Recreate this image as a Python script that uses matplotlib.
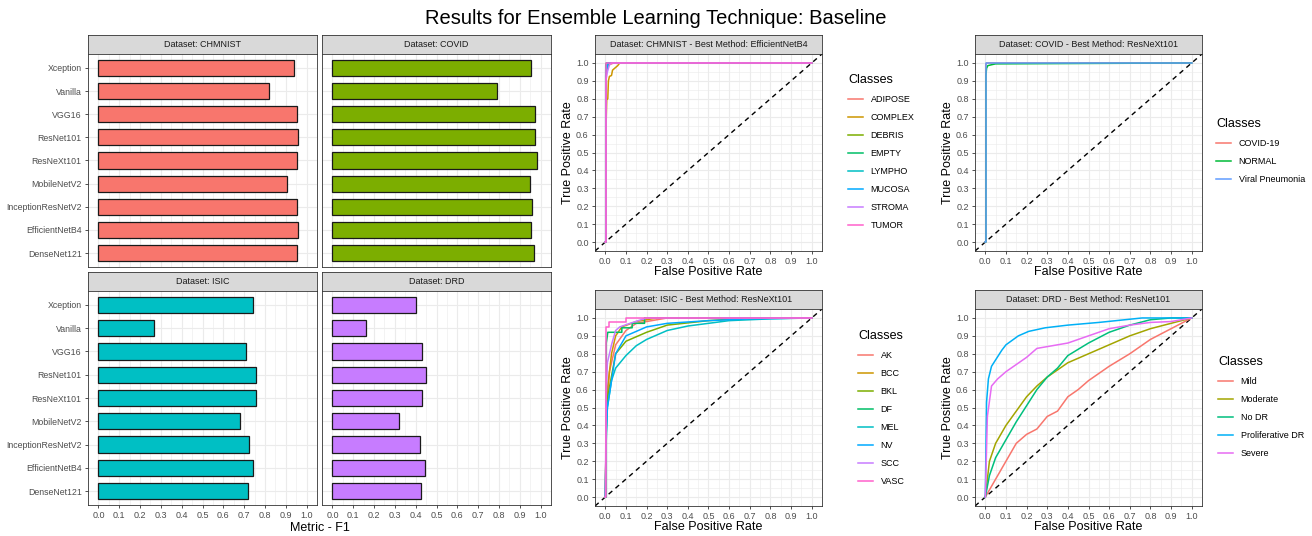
import numpy as np
import matplotlib
matplotlib.use("Agg")
import matplotlib.pyplot as plt
from matplotlib.ticker import MultipleLocator

plt.rcParams['font.family'] = ['Liberation Sans', 'DejaVu Sans']

W, H = 1312, 536

# ---- bar chart data (F1 per model) ----
models = ['DenseNet121', 'EfficientNetB4', 'InceptionResNetV2', 'MobileNetV2',
          'ResNeXt101', 'ResNet101', 'VGG16', 'Vanilla', 'Xception']
f1_chmnist = [0.954, 0.961, 0.952, 0.904, 0.952, 0.959, 0.952, 0.818, 0.938]
f1_covid = [0.969, 0.952, 0.959, 0.947, 0.985, 0.974, 0.974, 0.789, 0.955]
f1_isic = [0.717, 0.741, 0.722, 0.678, 0.756, 0.756, 0.708, 0.268, 0.743]
f1_drd = [0.426, 0.443, 0.423, 0.322, 0.428, 0.449, 0.428, 0.161, 0.401]

# ---- ROC curves (fpr, tpr) ----
chmnist_classes = ['ADIPOSE', 'COMPLEX', 'DEBRIS', 'EMPTY', 'LYMPHO', 'MUCOSA', 'STROMA', 'TUMOR']
chmnist_roc = [
    ([0, 0.002, 0.002, 0.02, 0.04, 1], [0, 0, 0.98, 0.99, 1.0, 1.0]),
    ([0, 0.003, 0.003, 0.007, 0.012, 0.015, 0.02, 0.03, 0.035, 0.05, 0.06, 0.07, 1],
     [0, 0, 0.62, 0.80, 0.80, 0.90, 0.925, 0.93, 0.96, 0.975, 0.985, 1.0, 1.0]),
    ([0, 0.003, 0.003, 0.02, 1], [0, 0, 0.95, 1.0, 1.0]),
    ([0, 0.002, 0.002, 0.005, 1], [0, 0, 0.99, 1.0, 1.0]),
    ([0, 0.002, 0.002, 0.01, 1], [0, 0, 0.96, 1.0, 1.0]),
    ([0, 0.002, 0.002, 0.008, 0.015, 1], [0, 0, 0.93, 0.97, 1.0, 1.0]),
    ([0, 0.003, 0.003, 0.01, 0.02, 0.03, 1], [0, 0, 0.90, 0.95, 0.99, 1.0, 1.0]),
    ([0, 0.003, 0.003, 1], [0, 0, 1.0, 1.0]),
]
chmnist_colors = ['#F8766D', '#CD9600', '#7CAE00', '#00BE67', '#00BFC4', '#00A9FF', '#C77CFF', '#FF61CC']

covid_classes = ['COVID-19', 'NORMAL', 'Viral Pneumonia']
covid_roc = [
    ([0, 0.002, 0.002, 0.006, 1], [0, 0, 0.99, 1.0, 1.0]),
    ([0, 0.003, 0.003, 0.006, 0.012, 0.03, 0.05, 1], [0, 0, 0.93, 0.97, 0.985, 0.99, 0.995, 1.0]),
    ([0, 0.003, 0.003, 1], [0, 0, 1.0, 1.0]),
]
covid_colors = ['#F8766D', '#00BA38', '#619CFF']

isic_classes = ['AK', 'BCC', 'BKL', 'DF', 'MEL', 'NV', 'SCC', 'VASC']
isic_roc = [
    ([0, 0.005, 0.02, 0.05, 0.1, 0.15, 0.25, 0.3, 1],
     [0, 0.45, 0.70, 0.85, 0.93, 0.97, 0.99, 1.0, 1.0]),
    ([0, 0.005, 0.01, 0.03, 0.05, 0.08, 0.15, 0.25, 1],
     [0, 0.45, 0.60, 0.80, 0.90, 0.95, 0.98, 1.0, 1.0]),
    ([0, 0.005, 0.01, 0.05, 0.1, 0.2, 0.3, 0.5, 0.7, 1],
     [0, 0.40, 0.55, 0.80, 0.87, 0.92, 0.96, 0.985, 1.0, 1.0]),
    ([0, 0.005, 0.005, 0.012, 0.08, 0.08, 0.13, 0.13, 0.19, 0.19, 1],
     [0, 0, 0.86, 0.92, 0.92, 0.945, 0.945, 0.97, 0.97, 1.0, 1.0]),
    ([0, 0.004, 0.01, 0.03, 0.05, 0.1, 0.15, 0.2, 0.3, 0.4, 0.5, 0.6, 0.8, 1],
     [0, 0.30, 0.50, 0.65, 0.72, 0.79, 0.845, 0.88, 0.93, 0.955, 0.97, 0.985, 0.995, 1.0]),
    ([0, 0.004, 0.01, 0.05, 0.1, 0.2, 0.3, 0.5, 0.7, 1],
     [0, 0.35, 0.50, 0.80, 0.90, 0.95, 0.97, 0.985, 0.995, 1.0]),
    ([0, 0.004, 0.01, 0.03, 0.05, 0.07, 0.12, 0.2, 1],
     [0, 0.55, 0.75, 0.85, 0.93, 0.95, 0.97, 1.0, 1.0]),
    ([0, 0.005, 0.005, 0.02, 0.02, 0.1, 0.1, 1],
     [0, 0, 0.95, 0.95, 0.975, 0.975, 1.0, 1.0]),
]
isic_colors = ['#F8766D', '#CD9600', '#7CAE00', '#00BE67', '#00BFC4', '#00A9FF', '#C77CFF', '#FF61CC']

drd_classes = ['Mild', 'Moderate', 'No DR', 'Proliferative DR', 'Severe']
drd_roc = [
    ([0, 0.05, 0.1, 0.15, 0.2, 0.25, 0.3, 0.35, 0.4, 0.45, 0.5, 0.6, 0.7, 0.8, 0.9, 1],
     [0, 0.10, 0.20, 0.30, 0.35, 0.38, 0.45, 0.48, 0.56, 0.60, 0.65, 0.73, 0.80, 0.88, 0.94, 1.0]),
    ([0, 0.02, 0.05, 0.1, 0.15, 0.2, 0.25, 0.3, 0.4, 0.5, 0.6, 0.7, 0.8, 0.9, 1],
     [0, 0.20, 0.30, 0.40, 0.48, 0.56, 0.62, 0.67, 0.75, 0.80, 0.85, 0.90, 0.94, 0.97, 1.0]),
    ([0, 0.02, 0.05, 0.1, 0.15, 0.2, 0.25, 0.3, 0.35, 0.4, 0.5, 0.6, 0.7, 0.8, 0.9, 1],
     [0, 0.12, 0.22, 0.32, 0.42, 0.51, 0.60, 0.67, 0.72, 0.79, 0.86, 0.92, 0.96, 0.99, 1.0, 1.0]),
    ([0, 0.006, 0.015, 0.03, 0.055, 0.08, 0.1, 0.16, 0.21, 0.29, 0.4, 0.55, 0.76, 1],
     [0, 0.53, 0.66, 0.73, 0.775, 0.82, 0.85, 0.90, 0.925, 0.945, 0.96, 0.975, 1.0, 1.0]),
    ([0, 0.01, 0.03, 0.06, 0.1, 0.15, 0.2, 0.25, 0.3, 0.4, 0.5, 0.6, 0.7, 0.8, 0.9, 1],
     [0, 0.45, 0.62, 0.66, 0.70, 0.74, 0.78, 0.83, 0.84, 0.86, 0.90, 0.94, 0.96, 0.975, 0.98, 1.0]),
]
drd_colors = ['#F8766D', '#A3A500', '#00BF7D', '#00B0F6', '#E76BF3']

TICK_COLOR = '#4D4D4D'
GRID = '#EBEBEB'
BORDER = '#333333'


def px_box(x0, y0, x1, y1):
    return [x0 / W, 1 - y1 / H, (x1 - x0) / W, (y1 - y0) / H]


def add_strip(fig, x0, y0, x1, y1, label):
    sax = fig.add_axes(px_box(x0, y0, x1, y1))
    sax.set_facecolor('#D9D9D9')
    sax.set_xticks([])
    sax.set_yticks([])
    for sp in sax.spines.values():
        sp.set_color(BORDER)
        sp.set_linewidth(0.6)
    sax.text(0.5, 0.5, label, ha='center', va='center', fontsize=6.5, color='#1A1A1A',
             transform=sax.transAxes)


def style_panel(ax):
    ax.set_facecolor('white')
    for sp in ax.spines.values():
        sp.set_color(BORDER)
        sp.set_linewidth(0.6)
    ax.grid(True, which='major', color=GRID, lw=0.8)
    ax.grid(True, which='minor', color=GRID, lw=0.4)
    ax.set_axisbelow(True)
    ax.tick_params(which='major', length=2.5, width=0.6, color=BORDER,
                   labelsize=6.5, labelcolor=TICK_COLOR, pad=2)
    ax.tick_params(which='minor', length=0)


fig = plt.figure(figsize=(W / 100, H / 100), dpi=100)
fig.text(656 / W, 1 - 19 / H, 'Results for Ensemble Learning Technique: Baseline',
         ha='center', va='center', fontsize=14.5, color='black')

# ---- bar panels ----
bar_panels = [
    ('CHMNIST', f1_chmnist, '#F8766D', 88, 317, 35, 54, 267, True, False),
    ('COVID', f1_covid, '#7CAE00', 322, 551, 35, 54, 267, False, False),
    ('ISIC', f1_isic, '#00BFC4', 88, 317, 272, 291, 505, True, True),
    ('DRD', f1_drd, '#C77CFF', 322, 551, 272, 291, 505, False, True),
]
ypos = np.arange(1, len(models) + 1)
for name, vals, col, x0, x1, s0, p0, p1, show_y, show_x in bar_panels:
    add_strip(fig, x0, s0, x1, p0, f'Dataset: {name}')
    ax = fig.add_axes(px_box(x0, p0, x1, p1))
    style_panel(ax)
    ax.barh(ypos, vals, height=0.7, color=col, edgecolor='#1A1A1A', linewidth=0.9, zorder=3)
    ax.set_xlim(-0.05, 1.05)
    ax.set_ylim(0.4, len(models) + 0.6)
    ax.xaxis.set_major_locator(MultipleLocator(0.1))
    ax.xaxis.set_minor_locator(MultipleLocator(0.05))
    ax.set_yticks(ypos)
    ax.grid(True, axis='y', which='minor', lw=0)
    if show_y:
        ax.set_yticklabels(models)
        ax.tick_params(axis='y', labelsize=6.3)
    else:
        ax.tick_params(axis='y', length=0, labelleft=False)
    if show_x:
        ax.set_xticklabels([f'{v:.1f}' for v in ax.get_xticks()])
    else:
        ax.tick_params(axis='x', length=0, labelbottom=False)
    ax.set_xlim(-0.05, 1.05)

fig.text(319.5 / W, 1 - 528 / H, 'Metric - F1', ha='center', va='center', fontsize=9)

# ---- ROC panels ----
roc_panels = [
    ('Dataset: CHMNIST - Best Method: EfficientNetB4', chmnist_classes, chmnist_roc, chmnist_colors,
     595, 822, 35, 54, 251, (848, 74)),
    ('Dataset: COVID - Best Method: ResNeXt101', covid_classes, covid_roc, covid_colors,
     975, 1202, 35, 54, 251, (1216, 118)),
    ('Dataset: ISIC - Best Method: ResNeXt101', isic_classes, isic_roc, isic_colors,
     595, 822, 290, 309, 506, (858, 330)),
    ('Dataset: DRD - Best Method: ResNet101', drd_classes, drd_roc, drd_colors,
     975, 1202, 290, 309, 506, (1218, 356)),
]
ticks = np.round(np.arange(0, 1.01, 0.1), 1)
for title, classes, curves, colors, x0, x1, s0, p0, p1, leg in roc_panels:
    add_strip(fig, x0, s0, x1, p0, title)
    ax = fig.add_axes(px_box(x0, p0, x1, p1))
    style_panel(ax)
    ax.set_xlim(-0.05, 1.05)
    ax.set_ylim(-0.05, 1.05)
    ax.set_xticks(ticks)
    ax.set_yticks(ticks)
    ax.set_xticklabels([f'{v:.1f}' for v in ticks])
    ax.set_yticklabels([f'{v:.1f}' for v in ticks])
    ax.xaxis.set_minor_locator(MultipleLocator(0.05))
    ax.yaxis.set_minor_locator(MultipleLocator(0.05))
    ax.plot([-0.05, 1.05], [-0.05, 1.05], color='black', lw=1.0, ls=(0, (3.5, 3)), zorder=2)
    handles = []
    for cls, (fpr, tpr), c in zip(classes, curves, colors):
        h, = ax.plot(fpr, tpr, color=c, lw=1.1, label=cls, zorder=3)
        handles.append(h)
    lx, ly = leg
    lg = fig.legend(handles=handles, title='Classes', loc='upper left',
                    bbox_to_anchor=(lx / W, 1 - ly / H), frameon=False,
                    fontsize=6.5, title_fontsize=9, borderpad=0, borderaxespad=0,
                    handlelength=1.7, handletextpad=0.8, labelspacing=1.0)
    lg._legend_box.align = 'left'
    fig.text((x0 + x1) / 2 / W, 1 - (p1 + 21) / H, 'False Positive Rate',
             ha='center', va='center', fontsize=9)
    fig.text((x0 - 27) / W, 1 - (p0 + p1) / 2 / H, 'True Positive Rate',
             ha='center', va='center', rotation=90, fontsize=9)

fig.savefig('out.png', dpi=100)
